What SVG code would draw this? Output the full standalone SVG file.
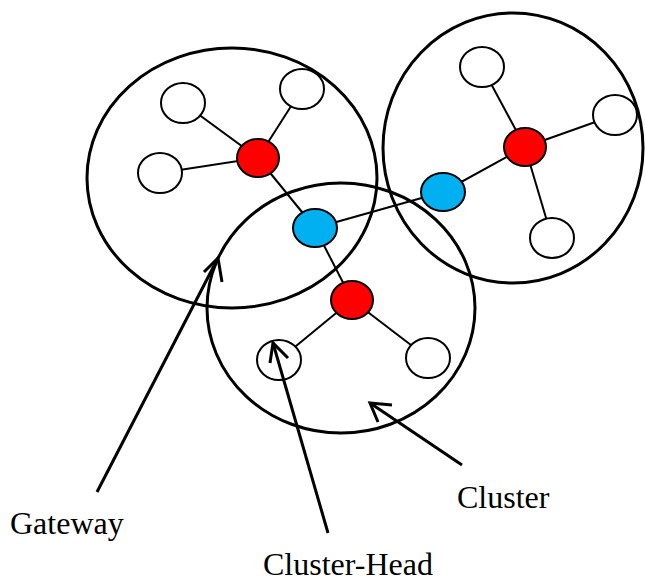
<svg xmlns="http://www.w3.org/2000/svg" width="646" height="581" viewBox="0 0 646 581">
<style>
.cl{fill:none;stroke:#000;stroke-width:3}
.e{stroke:#000;stroke-width:2}
.w{fill:#fff;stroke:#000;stroke-width:2}
.r{fill:#ff0000;stroke:#000;stroke-width:2}
.b{fill:#00b0f0;stroke:#000;stroke-width:2}
.a{fill:none;stroke:#000;stroke-width:3}
.t{font-family:"Liberation Serif","Times New Roman",serif;font-size:32px;fill:#000}
</style>
<rect width="646" height="581" fill="#fff"/>
<g id="clusters">
<ellipse id="cluster-left" class="cl" cx="232" cy="178" rx="145" ry="130"/>
<ellipse id="cluster-right" class="cl" cx="513" cy="148" rx="130" ry="135"/>
<ellipse id="cluster-bottom" class="cl" cx="341" cy="308" rx="134" ry="125"/>
</g>
<g id="connectors">
<line class="e" x1="258" y1="158" x2="183" y2="103"/>
<line class="e" x1="258" y1="158" x2="302" y2="89"/>
<line class="e" x1="258" y1="158" x2="160" y2="173"/>
<line class="e" x1="258" y1="158" x2="315" y2="228"/>
<line class="e" x1="315" y1="228" x2="352" y2="300"/>
<line class="e" x1="315" y1="228" x2="443" y2="192"/>
<line class="e" x1="352" y1="300" x2="279" y2="360"/>
<line class="e" x1="352" y1="300" x2="428" y2="358"/>
<line class="e" x1="443" y1="192" x2="525" y2="147"/>
<line class="e" x1="525" y1="147" x2="482" y2="67"/>
<line class="e" x1="525" y1="147" x2="615" y2="115"/>
<line class="e" x1="525" y1="147" x2="552" y2="238"/>
</g>
<g id="n-left-head"><ellipse class="r" cx="258" cy="158" rx="21" ry="19"/></g>
<g id="n-left-1"><ellipse class="w" cx="183" cy="103" rx="22" ry="20"/></g>
<g id="n-left-2"><ellipse class="w" cx="302" cy="89" rx="22" ry="20"/></g>
<g id="n-left-3"><ellipse class="w" cx="160" cy="173" rx="22" ry="20"/></g>
<g id="n-gateway-1"><ellipse class="b" cx="315" cy="228" rx="22" ry="19"/></g>
<g id="n-bottom-head"><ellipse class="r" cx="352" cy="300" rx="21" ry="19"/></g>
<g id="n-bottom-1"><ellipse class="w" cx="279" cy="360" rx="22" ry="20"/></g>
<g id="n-bottom-2"><ellipse class="w" cx="428" cy="358" rx="22" ry="20"/></g>
<g id="n-gateway-2"><ellipse class="b" cx="443" cy="192" rx="22" ry="19"/></g>
<g id="n-right-head"><ellipse class="r" cx="525" cy="147" rx="21" ry="19"/></g>
<g id="n-right-1"><ellipse class="w" cx="482" cy="67" rx="22" ry="20"/></g>
<g id="n-right-2"><ellipse class="w" cx="615" cy="115" rx="22" ry="20"/></g>
<g id="n-right-3"><ellipse class="w" cx="552" cy="238" rx="22" ry="20"/></g>
<g id="label-arrows">
<line class="a" x1="97" y1="492" x2="218" y2="258"/>
<polyline class="a" points="204,272 218,258 222,282"/>
<line class="a" x1="328" y1="533" x2="273" y2="343"/>
<polyline class="a" points="270,363 273,343 288,358"/>
<line class="a" x1="462" y1="465" x2="370" y2="403"/>
<polyline class="a" points="392,405 370,403 378,422"/>
</g>
<g id="labels">
<text class="t" x="10" y="534">Gateway</text>
<text class="t" x="263" y="575">Cluster-Head</text>
<text class="t" x="457" y="508">Cluster</text>
</g>
</svg>
